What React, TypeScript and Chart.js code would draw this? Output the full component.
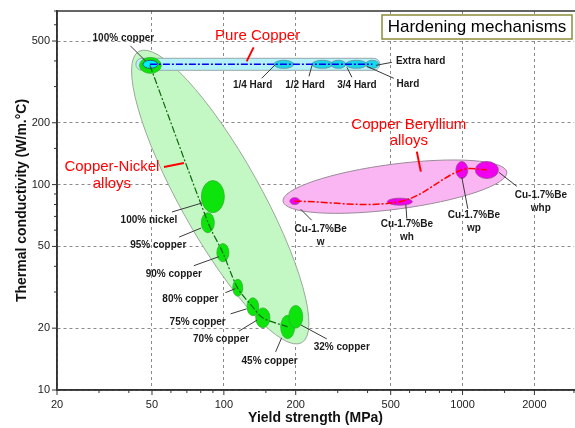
import React, { useEffect, useRef } from "react";
import { Chart, registerables } from "chart.js";

Chart.register(...registerables);

// ---------------- DATA ----------------
// Copper-Nickel alloys (yield strength MPa, thermal conductivity W/m.°C)
const cuNiNames = ["100% copper", "100% nickel", "95% copper", "90% copper", "80% copper", "75% copper", "70% copper", "45% copper", "32% copper"];
const cuNiStrength = [49, 90, 86, 99, 114, 132, 146, 185, 200];
const cuNiStrengthLow = [44.3, 80.5, 80.5, 93.5, 109, 125, 136, 173, 187];
const cuNiStrengthHigh = [54.7, 100.5, 91.2, 105, 120, 140, 156, 198, 214];
const cuNiConductivity = [381, 87, 65, 46.6, 31.5, 25.4, 22.4, 20.3, 22.7];
const cuNiConductivityLow = [348, 73, 58.3, 42.1, 28.6, 23.0, 20.1, 17.8, 20.0];
const cuNiConductivityHigh = [416, 104.6, 73, 51.6, 34.6, 28.1, 25.1, 23.1, 25.8];
const cuNiTrendOrder = [0, 2, 3, 4, 5, 6, 7];

// Pure copper, hardened tempers
const cuNames = ["100% copper", "1/4 Hard", "1/2 Hard", "3/4 Hard", "Hard", "Extra hard"];
const cuStrength = [49, 178, 259, 302, 359, 419];
const cuStrengthLow = [45.8, 162, 234, 281, 324, 393];
const cuStrengthHigh = [52.9, 196, 286, 324, 397, 446];
const cuConductivity = [385, 385, 385, 385, 385, 385];
const cuConductivityLow = [368, 368, 368, 368, 368, 368];
const cuConductivityHigh = [403, 403, 403, 403, 403, 403];

// Copper Beryllium alloys
const beNames = ["w", "wh", "wp", "whp"];
const beStrength = [198, 546, 993, 1264];
const beStrengthLow = [189, 484, 938, 1131];
const beStrengthHigh = [208, 616, 1052, 1413];
const beConductivity = [83, 82.6, 118, 118];
const beConductivityLow = [79.9, 79.4, 107, 107];
const beConductivityHigh = [86.4, 85.9, 129.5, 129.5];

// Family envelopes (data coordinates)
const cuNiRegionFrom = [44, 445];
const cuNiRegionTo = [212, 17];
const cuBeRegionFrom = [177, 83];
const cuBeRegionTo = [1533, 115];
const pureCuBandStrength = [42.8, 450];
const pureCuBandConductivity = [360, 412];

// Axis ticks
const xTickLabels = [20, 50, 100, 200, 500, 1000, 2000];
const yTickLabels = [10, 20, 50, 100, 200, 500];

// ---------------- STYLE / ANNOTATION LAYOUT ----------------
const FONT = "'Liberation Sans', Arial, sans-serif";

type Ann = { series: "cuNi" | "cu" | "be"; idx: number; lines: string[]; dx: number; dy: number; leader: [number, number, number, number]; align?: CanvasTextAlign };
const annotations: Ann[] = [
  { series: "cu", idx: 0, lines: ["100% copper"], dx: -26.5, dy: -26.5, leader: [-19.5, -18.5, -4.5, -3.5] },
  { series: "cu", idx: 1, lines: ["1/4 Hard"], dx: -31, dy: 21, leader: [-22, 14, -8, 0] },
  { series: "cu", idx: 2, lines: ["1/2 Hard"], dx: -17.5, dy: 21, leader: [-13.5, 12, -10.5, 1] },
  { series: "cu", idx: 3, lines: ["3/4 Hard"], dx: 18.5, dy: 21, leader: [13.5, 13, 8.5, 3] },
  { series: "cu", idx: 4, lines: ["Hard"], dx: 51.5, dy: 20, leader: [37.5, 14, 10.5, 2] },
  { series: "cu", idx: 5, lines: ["Extra hard"], dx: 23.5, dy: -3, leader: [19.5, -2, 3.5, 1], align: "left" },
  { series: "cuNi", idx: 1, lines: ["100% nickel"], dx: -64, dy: 23, leader: [-41, 15, -11, 6] },
  { series: "cuNi", idx: 2, lines: ["95% copper"], dx: -50, dy: 22, leader: [-29, 14, -7, 5] },
  { series: "cuNi", idx: 3, lines: ["90% copper"], dx: -49, dy: 22, leader: [-29, 13, -4, 4] },
  { series: "cuNi", idx: 4, lines: ["80% copper"], dx: -47, dy: 12, leader: [-12, 5, -2, 1] },
  { series: "cuNi", idx: 5, lines: ["75% copper"], dx: -55, dy: 15, leader: [-22, 7, -6, 2] },
  { series: "cuNi", idx: 6, lines: ["70% copper"], dx: -42, dy: 21, leader: [-24, 13, -6, 2] },
  { series: "cuNi", idx: 7, lines: ["45% copper"], dx: -18, dy: 34, leader: [-12, 25, -6, 11] },
  { series: "cuNi", idx: 8, lines: ["32% copper"], dx: 46, dy: 30, leader: [31, 22, 5, 8] },
  { series: "be", idx: 0, lines: ["Cu-1.7%Be", "w"], dx: 26, dy: 28.3, leader: [6, 8, 17, 19] },
  { series: "be", idx: 1, lines: ["Cu-1.7%Be", "wh"], dx: 7, dy: 23, leader: [6, 3, 7, 17] },
  { series: "be", idx: 2, lines: ["Cu-1.7%Be", "wp"], dx: 12, dy: 45.5, leader: [0, 7.5, 6, 39] },
  { series: "be", idx: 3, lines: ["Cu-1.7%Be", "whp"], dx: 54, dy: 25.5, leader: [12, 2.5, 30, 16.5] },
];

type Family = { series: "cuNi" | "cu" | "be"; idx: number; lines: string[]; dx: number; dy: number; leader: [number, number, number, number] };
const familyLabels: Family[] = [
  { series: "cu", idx: 1, lines: ["Pure Copper"], dx: -26, dy: -28, leader: [-30, -17, -37, -3] },
  { series: "cuNi", idx: 1, lines: ["Copper-Nickel", "alloys"], dx: -101, dy: -30, leader: [-49, -30, -29, -34] },
  { series: "be", idx: 1, lines: ["Copper Beryllium", "alloys"], dx: 9, dy: -77, leader: [17, -50, 21, -30] },
];

function seriesValues(series: string) {
  if (series === "cuNi") return { x: cuNiStrength, y: cuNiConductivity };
  if (series === "cu") return { x: cuStrength, y: cuConductivity };
  return { x: beStrength, y: beConductivity };
}

function drawRegion(ctx: CanvasRenderingContext2D, xs: any, ys: any, from: number[], to: number[], ratio: number, fill: string, stroke: string) {
  const x1 = xs.getPixelForValue(from[0]);
  const y1 = ys.getPixelForValue(from[1]);
  const x2 = xs.getPixelForValue(to[0]);
  const y2 = ys.getPixelForValue(to[1]);
  const a = Math.hypot(x2 - x1, y2 - y1) / 2;
  const ang = Math.atan2(y2 - y1, x2 - x1);
  ctx.beginPath();
  ctx.ellipse((x1 + x2) / 2, (y1 + y2) / 2, a, a * ratio, ang, 0, Math.PI * 2);
  ctx.fillStyle = fill;
  ctx.fill();
  ctx.lineWidth = 1;
  ctx.strokeStyle = stroke;
  ctx.stroke();
}

function drawBubbles(ctx: CanvasRenderingContext2D, xs: any, ys: any, xl: number[], xh: number[], yl: number[], yh: number[], fill: string, stroke: string, lw: number, only?: number[]) {
  for (let i = 0; i < xl.length; i++) {
    if (only && !only.includes(i)) continue;
    const l = xs.getPixelForValue(xl[i]);
    const r = xs.getPixelForValue(xh[i]);
    const t = ys.getPixelForValue(yh[i]);
    const b = ys.getPixelForValue(yl[i]);
    ctx.beginPath();
    ctx.ellipse((l + r) / 2, (t + b) / 2, Math.abs(r - l) / 2, Math.abs(b - t) / 2, 0, 0, Math.PI * 2);
    ctx.fillStyle = fill;
    ctx.fill();
    ctx.lineWidth = lw;
    ctx.strokeStyle = stroke;
    ctx.stroke();
  }
}

const backgroundPlugin = {
  id: "regions",
  beforeDatasetsDraw(chart: any) {
    const { ctx, scales } = chart;
    const xs = scales.x;
    const ys = scales.y;
    ctx.save();
    drawRegion(ctx, xs, ys, cuNiRegionFrom, cuNiRegionTo, 0.24, "#c3f7c3", "#9aa89a");
    drawRegion(ctx, xs, ys, cuBeRegionFrom, cuBeRegionTo, 0.2, "#f9b6f2", "#9a8a98");
    // pure copper band (capsule)
    const l = xs.getPixelForValue(pureCuBandStrength[0]);
    const r = xs.getPixelForValue(pureCuBandStrength[1]);
    const t = ys.getPixelForValue(pureCuBandConductivity[1]);
    const b = ys.getPixelForValue(pureCuBandConductivity[0]);
    const rad = (b - t) / 2;
    ctx.beginPath();
    ctx.moveTo(l + rad, t);
    ctx.lineTo(r - rad, t);
    ctx.arc(r - rad, t + rad, rad, -Math.PI / 2, Math.PI / 2);
    ctx.lineTo(l + rad, b);
    ctx.arc(l + rad, t + rad, rad, Math.PI / 2, (3 * Math.PI) / 2);
    ctx.closePath();
    ctx.fillStyle = "#b5f1f8";
    ctx.fill();
    ctx.lineWidth = 1;
    ctx.strokeStyle = "#98a8ac";
    ctx.stroke();
    drawBubbles(ctx, xs, ys, cuNiStrengthLow, cuNiStrengthHigh, cuNiConductivityLow, cuNiConductivityHigh, "#0ce40c", "#2fb32f", 0.8);
    drawBubbles(ctx, xs, ys, cuStrengthLow, cuStrengthHigh, cuConductivityLow, cuConductivityHigh, "#19d8ea", "#5f8f9c", 0.8, [1, 2, 3, 4, 5]);
    drawBubbles(ctx, xs, ys, cuStrengthLow, cuStrengthHigh, cuConductivityLow, cuConductivityHigh, "#00eefc", "#305a66", 1, [0]);
    drawBubbles(ctx, xs, ys, beStrengthLow, beStrengthHigh, beConductivityLow, beConductivityHigh, "#f000ee", "#9a4a96", 0.8);
    ctx.restore();
  },
  afterDraw(chart: any) {
    const { ctx, scales, chartArea } = chart;
    const xs = scales.x;
    const ys = scales.y;
    ctx.save();
    // frame (left, bottom, top)
    ctx.strokeStyle = "#333";
    ctx.lineWidth = 1.5;
    ctx.beginPath();
    ctx.moveTo(chartArea.right + 2, chartArea.top);
    ctx.lineTo(chartArea.left, chartArea.top);
    ctx.lineTo(chartArea.left, chartArea.bottom);
    ctx.lineTo(chartArea.right + 2, chartArea.bottom);
    ctx.stroke();
    // tick marks
    ctx.lineWidth = 1;
    xs.ticks.forEach((t: any) => {
      const px = xs.getPixelForValue(t.value);
      const len = xTickLabels.includes(t.value) ? 5 : 3;
      ctx.beginPath();
      ctx.moveTo(px, chartArea.bottom);
      ctx.lineTo(px, chartArea.bottom + len);
      ctx.stroke();
    });
    ys.ticks.forEach((t: any) => {
      const py = ys.getPixelForValue(t.value);
      const len = yTickLabels.includes(t.value) ? 5 : 3;
      ctx.beginPath();
      ctx.moveTo(chartArea.left, py);
      ctx.lineTo(chartArea.left - len, py);
      ctx.stroke();
    });

    // point annotations
    const pointPx = (series: string, idx: number) => {
      const v = seriesValues(series);
      return [xs.getPixelForValue(v.x[idx]), ys.getPixelForValue(v.y[idx])];
    };
    ctx.textBaseline = "middle";
    annotations.forEach((a) => {
      const [cx, cy] = pointPx(a.series, a.idx);
      ctx.strokeStyle = "#3a3a3a";
      ctx.lineWidth = 1;
      ctx.beginPath();
      ctx.moveTo(cx + a.leader[0], cy + a.leader[1]);
      ctx.lineTo(cx + a.leader[2], cy + a.leader[3]);
      ctx.stroke();
      ctx.fillStyle = "#1a1a1a";
      ctx.font = `bold 10px ${FONT}`;
      ctx.textAlign = a.align || "center";
      a.lines.forEach((line, k) => ctx.fillText(line, cx + a.dx, cy + a.dy + k * 13));
    });
    familyLabels.forEach((f) => {
      const [cx, cy] = pointPx(f.series, f.idx);
      ctx.strokeStyle = "#ff0000";
      ctx.lineWidth = 2;
      ctx.beginPath();
      ctx.moveTo(cx + f.leader[0], cy + f.leader[1]);
      ctx.lineTo(cx + f.leader[2], cy + f.leader[3]);
      ctx.stroke();
      ctx.fillStyle = "#ff0000";
      ctx.font = `15px ${FONT}`;
      ctx.textAlign = "center";
      f.lines.forEach((line, k) => ctx.fillText(line, cx + f.dx, cy + f.dy + k * 16.5));
    });

    // boxed title
    const bx = chart.width - 193;
    const by = chartArea.top + 4;
    ctx.fillStyle = "#ffffff";
    ctx.fillRect(bx, by, 190, 24);
    ctx.strokeStyle = "#8c8c3a";
    ctx.lineWidth = 1.5;
    ctx.strokeRect(bx, by, 190, 24);
    ctx.fillStyle = "#000";
    ctx.font = `17px ${FONT}`;
    ctx.textAlign = "center";
    ctx.fillText("Hardening mechanisms", bx + 95, by + 12.5);
    ctx.restore();
  },
};

export default function App() {
  const ref = useRef<HTMLCanvasElement | null>(null);
  useEffect(() => {
    document.body.style.margin = "0";
    const canvas = ref.current;
    if (!canvas) return;
    const dash = [7, 2, 2, 2];
    const chart = new Chart(canvas, {
      type: "scatter",
      data: {
        datasets: [
          {
            label: "Pure copper",
            data: cuStrength.map((x, i) => ({ x, y: cuConductivity[i] })),
            showLine: true,
            borderColor: "#0000f0",
            borderWidth: 1.5,
            borderDash: dash,
            pointRadius: 0,
          },
          {
            label: "Copper-Nickel",
            data: cuNiTrendOrder.map((i) => ({ x: cuNiStrength[i], y: cuNiConductivity[i] })),
            showLine: true,
            borderColor: "#0a6a0a",
            borderWidth: 1.2,
            borderDash: dash,
            pointRadius: 0,
            tension: 0.3,
          },
          {
            label: "Copper Beryllium",
            data: beStrength.map((x, i) => ({ x, y: beConductivity[i] })),
            showLine: true,
            borderColor: "#ff0000",
            borderWidth: 1.5,
            borderDash: dash,
            pointRadius: 0,
            tension: 0.35,
          },
        ],
      },
      options: {
        animation: false,
        responsive: false,
        devicePixelRatio: 1,
        layout: { padding: { top: 11, right: 1, left: 0, bottom: 0 } },
        plugins: { legend: { display: false }, tooltip: { enabled: false } },
        scales: {
          x: {
            type: "logarithmic",
            min: 20,
            max: 2930,
            afterFit: (s: any) => {
              s.height = 38;
              s.paddingLeft = 0;
              s.paddingRight = 0;
            },
            grid: {
              drawTicks: false,
              color: (c: any) => (c.tick && xTickLabels.includes(c.tick.value) ? "#8a8a8a" : "rgba(0,0,0,0)"),
              lineWidth: 1,
            },
            border: { display: true, color: "#333", width: 1.5, dash: [3, 3] },
            ticks: {
              autoSkip: false,
              maxRotation: 0,
              padding: 8,
              color: "#222",
              font: { family: FONT, size: 11 },
              callback: (v: any) => (xTickLabels.includes(Number(v)) ? String(v) : ""),
            },
            title: {
              display: true,
              text: "Yield strength (MPa)",
              color: "#111",
              font: { family: FONT, size: 14, weight: "bold" },
              padding: { top: 0, bottom: 1.6 },
            },
          },
          y: {
            type: "logarithmic",
            min: 10,
            max: 700,
            afterFit: (s: any) => {
              s.width = 57;
              s.paddingTop = 0;
              s.paddingBottom = 0;
            },
            grid: {
              drawTicks: false,
              color: (c: any) => (c.tick && yTickLabels.includes(c.tick.value) ? "#8a8a8a" : "rgba(0,0,0,0)"),
              lineWidth: 1,
            },
            border: { display: true, color: "#333", width: 1.5, dash: [3, 3] },
            ticks: {
              autoSkip: false,
              padding: 7,
              color: "#222",
              font: { family: FONT, size: 11 },
              callback: (v: any) => (yTickLabels.includes(Number(v)) ? String(v) : ""),
            },
            title: {
              display: true,
              text: "Thermal conductivity (W/m.°C)",
              color: "#111",
              font: { family: FONT, size: 14, weight: "bold" },
              padding: { top: 13.6, bottom: 0 },
            },
          },
        },
      },
      plugins: [backgroundPlugin],
    });
    return () => chart.destroy();
  }, []);
  return <canvas ref={ref} width={575} height={428} style={{ display: "block" }} />;
}
